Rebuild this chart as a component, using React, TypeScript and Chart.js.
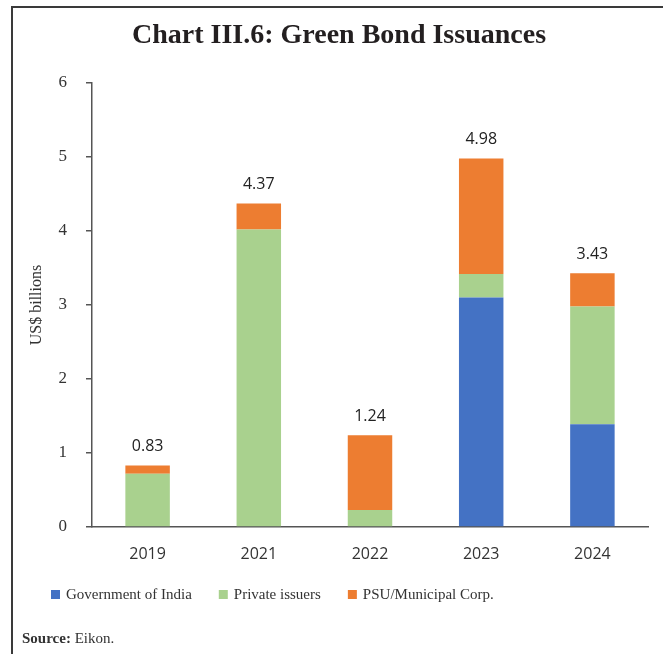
import React, { useEffect, useRef } from "react";
import { Chart, registerables } from "chart.js";

Chart.register(...registerables);

const categories = ["2019", "2021", "2022", "2023", "2024"];
const governmentOfIndia = [0, 0, 0, 3.1, 1.39];
const privateIssuers = [0.72, 4.02, 0.23, 0.32, 1.59];
const psuMunicipal = [0.11, 0.35, 1.01, 1.56, 0.45];
const totals = [0.83, 4.37, 1.24, 4.98, 3.43];
const seriesNames = ["Government of India", "Private issuers", "PSU/Municipal Corp."];
const seriesColors = ["#4472C4", "#A9D18E", "#ED7D31"];
const titleText = "Chart III.6: Green Bond Issuances";
const yAxisTitle = "US$ billions";

const SERIF = "'Liberation Serif', 'Times New Roman', serif";
const SANS = "'Open Sans', 'DejaVu Sans', sans-serif";

const extrasPlugin = {
  id: "extras",
  afterDraw(chart: any) {
    const ctx = chart.ctx;
    ctx.save();
    // Title
    ctx.fillStyle = "#231f20";
    ctx.font = `bold 28px ${SERIF}`;
    ctx.textAlign = "center";
    ctx.textBaseline = "middle";
    ctx.fillText(titleText, 339, 36);

    // Data labels (totals)
    const lastMeta = chart.getDatasetMeta(chart.data.datasets.length - 1);
    ctx.font = `16px ${SANS}`;
    ctx.fillStyle = "#222";
    ctx.textAlign = "center";
    ctx.textBaseline = "middle";
    const yScale = chart.scales.y;
    totals.forEach((t, i) => {
      const bar = lastMeta.data[i];
      const y = yScale.getPixelForValue(t);
      ctx.fillText(t.toFixed(2), bar.x, y - 19);
    });

    // Legend
    ctx.font = `15px ${SERIF}`;
    ctx.textAlign = "left";
    ctx.textBaseline = "middle";
    let x = 51;
    const ly = 595;
    chart.data.datasets.forEach((ds: any) => {
      ctx.fillStyle = ds.backgroundColor;
      ctx.fillRect(x, ly - 5, 9, 9);
      ctx.fillStyle = "#333";
      ctx.fillText(ds.label, x + 15, ly);
      x += 15 + ctx.measureText(ds.label).width + 27;
    });

    // Source
    ctx.fillStyle = "#333";
    ctx.font = `bold 15px ${SERIF}`;
    ctx.fillText("Source:", 22, 639);
    const w = ctx.measureText("Source: ").width;
    ctx.font = `15px ${SERIF}`;
    ctx.fillText("Eikon.", 22 + w, 639);
    ctx.restore();
  },
};

export default function App() {
  const canvasRef = useRef<HTMLCanvasElement>(null);

  useEffect(() => {
    const canvas = canvasRef.current;
    if (!canvas) return;
    const values = [governmentOfIndia, privateIssuers, psuMunicipal];
    const chart = new Chart(canvas, {
      type: "bar",
      data: {
        labels: categories,
        datasets: values.map((v, i) => ({
          label: seriesNames[i],
          data: v,
          backgroundColor: seriesColors[i],
          borderWidth: 0,
          categoryPercentage: 1,
          barPercentage: 0.4,
        })),
      },
      options: {
        animation: false,
        responsive: true,
        maintainAspectRatio: false,
        layout: { padding: { top: 83, right: 15, bottom: 87, left: 0 } },
        plugins: {
          legend: { display: false },
          title: { display: false },
          tooltip: { enabled: false },
        },
        scales: {
          x: {
            stacked: true,
            grid: { display: false, drawTicks: false },
            border: { display: true, color: "#555", width: 1.5 },
            ticks: { color: "#333", font: { family: SANS, size: 16 }, padding: 18 },
            afterFit: (s: any) => {
              s.height = 40;
            },
          },
          y: {
            stacked: true,
            min: 0,
            max: 6,
            ticks: {
              stepSize: 1,
              color: "#333",
              font: { family: SERIF, size: 17 },
              padding: 19,
            },
            grid: { drawOnChartArea: false, drawTicks: true, tickLength: 6, color: "#555", lineWidth: 1.5 },
            border: { display: true, color: "#555", width: 1.5 },
            title: {
              display: true,
              text: yAxisTitle,
              color: "#333",
              font: { family: SERIF, size: 16 },
              padding: { top: 27, bottom: 0 },
            },
            afterFit: (s: any) => {
              s.width = 92;
            },
          },
        },
      },
      plugins: [extrasPlugin],
    });
    return () => chart.destroy();
  }, []);

  return (
    <div style={{ position: "absolute", left: 0, top: 0, width: 663, height: 654, background: "#fff", overflow: "hidden" }}>
      <div
        style={{
          position: "absolute",
          left: 11,
          top: 6,
          width: 700,
          height: 700,
          borderTop: "2px solid #3a3a3a",
          borderLeft: "2px solid #3a3a3a",
        }}
      />
      <canvas ref={canvasRef} style={{ position: "absolute", left: 0, top: 0 }} />
    </div>
  );
}
